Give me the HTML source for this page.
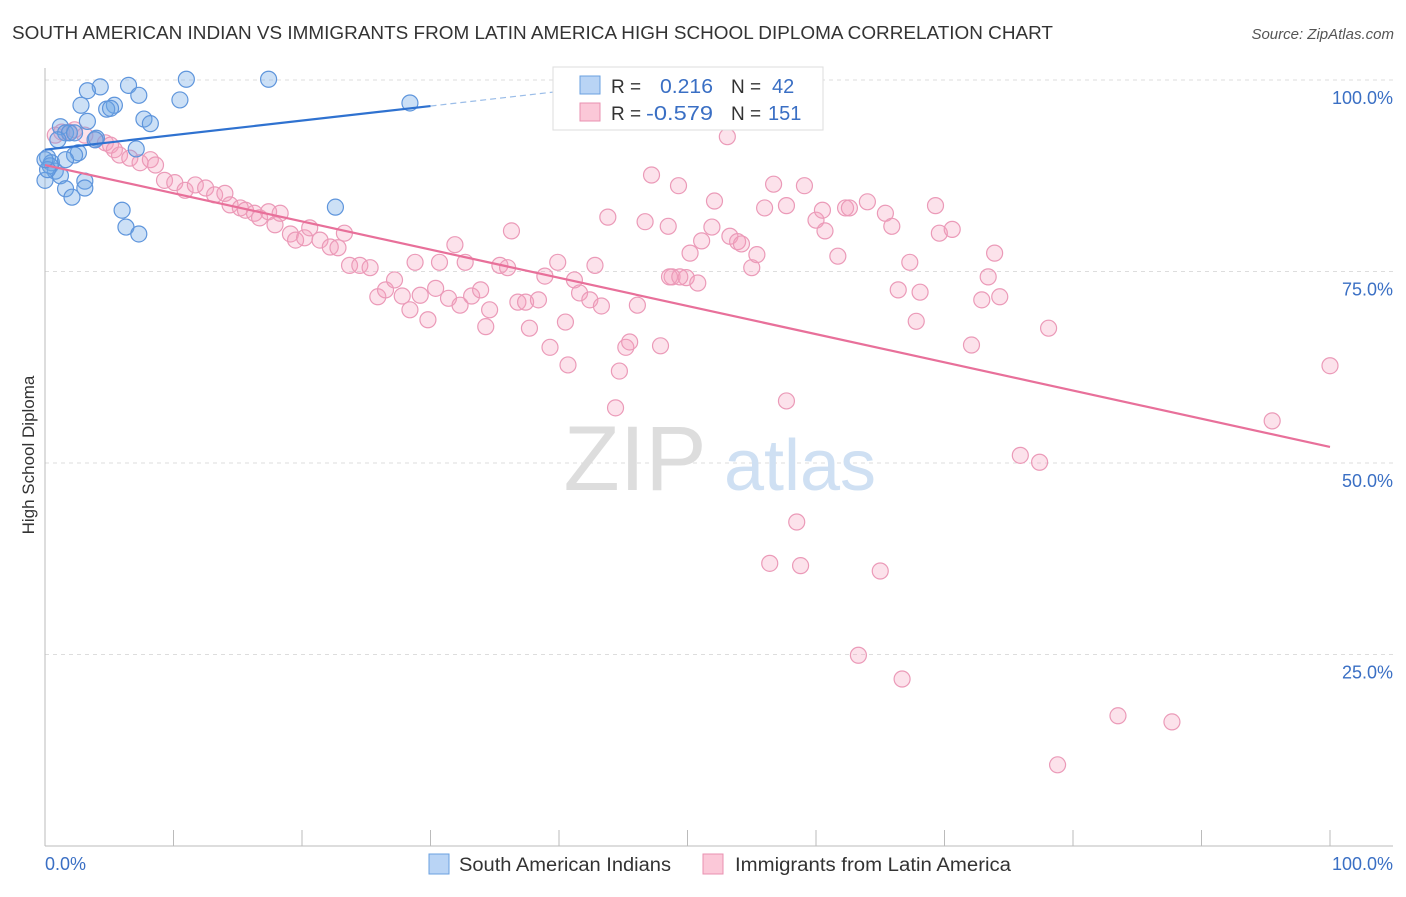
<!DOCTYPE html>
<html><head><meta charset="utf-8"><style>
body{margin:0;background:#fff;font-family:"Liberation Sans",sans-serif;}
svg text{font-family:"Liberation Sans",sans-serif;}
</style></head><body>
<svg id="chart" width="1406" height="892" xmlns="http://www.w3.org/2000/svg">
<text x="12" y="39" font-size="18" fill="#333" textLength="1041" lengthAdjust="spacingAndGlyphs">SOUTH AMERICAN INDIAN VS IMMIGRANTS FROM LATIN AMERICA HIGH SCHOOL DIPLOMA CORRELATION CHART</text>
<text x="1394" y="39" font-size="15" fill="#555" text-anchor="end" font-style="italic">Source: ZipAtlas.com</text>
<text x="34" y="455" font-size="17" fill="#333" text-anchor="middle" transform="rotate(-90 34 455)">High School Diploma</text>
<g id="grid"></g>
<g><text x="635" y="490" font-size="92" fill="#ddd" font-family="Liberation Serif" text-anchor="middle">ZIP</text><text x="800" y="490" font-size="72" fill="#cfe0f3" text-anchor="middle">atlas</text></g>
<g id="marks"></g>
<g>
<rect x="553" y="67" width="270" height="63" fill="#fff" stroke="#ddd"/>
<rect x="580" y="76" width="20" height="18" fill="#b9d4f5" stroke="#6aa0e0"/>
<rect x="580" y="103" width="20" height="18" fill="#fbc8d8" stroke="#e891b0"/>
<text x="611" y="93" font-size="19" fill="#333">R = </text><text x="660" y="93" font-size="20" fill="#3a6fc4" textLength="53" lengthAdjust="spacingAndGlyphs">0.216</text>
<text x="731" y="93" font-size="19" fill="#333">N = </text><text x="772" y="93" font-size="20" fill="#3a6fc4">42</text>
<text x="611" y="120" font-size="19" fill="#333">R = </text><text x="646" y="120" font-size="20" fill="#3a6fc4" textLength="67" lengthAdjust="spacingAndGlyphs">-0.579</text>
<text x="731" y="120" font-size="19" fill="#333">N = </text><text x="768" y="120" font-size="20" fill="#3a6fc4">151</text>
</g>
<g>
<rect x="429" y="854" width="20" height="20" fill="#b9d4f5" stroke="#6aa0e0"/>
<text x="459" y="871" font-size="19" fill="#333" textLength="212" lengthAdjust="spacingAndGlyphs">South American Indians</text>
<rect x="703" y="854" width="20" height="20" fill="#fbc8d8" stroke="#e891b0"/>
<text x="735" y="871" font-size="19" fill="#333" textLength="276" lengthAdjust="spacingAndGlyphs">Immigrants from Latin America</text>
</g>
</svg>
<script>
const blueX=[4.3,6.5,11.0,17.4,3.3,2.8,5.4,4.8,7.3,10.5,28.4,7.7,8.2,3.3,1.2,1.6,1.9,2.3,4.0,7.1,2.6,0.2,0.5,0.8,0.4,1.2,0,1.6,2.1,3.1,3.1,6.0,6.3,7.3,22.6,0.2,2.3,1.6,1.0,5.1,3.9,0];
const blueY=[99.1,99.3,100.1,100.1,98.6,96.7,96.7,96.2,98.0,97.4,97.0,94.9,94.3,94.6,93.9,93.1,93.1,93.1,92.4,91.0,90.5,89.9,89.2,88.1,88.8,87.5,86.9,85.8,84.7,86.8,85.9,83.0,80.8,79.9,83.4,88.3,90.2,89.6,92.2,96.3,92.2,89.6];
const pinkX=[0.8,1.3,1.9,2.3,3.1,3.9,4.7,5.1,5.4,5.8,6.6,7.4,8.2,8.6,9.3,10.1,10.9,11.7,12.5,13.2,14.0,14.4,15.2,15.6,16.3,16.7,17.4,17.9,18.3,19.1,19.5,20.2,20.6,21.4,22.2,22.8,23.3,23.7,24.5,25.3,25.9,26.5,27.2,27.8,28.4,28.8,29.2,29.8,30.4,30.7,31.4,31.9,32.3,32.7,33.2,33.9,34.3,34.6,35.4,36.0,36.3,36.8,37.4,37.7,38.4,38.9,39.3,39.9,40.5,40.7,41.2,41.6,42.4,42.8,43.3,43.8,44.4,44.7,45.2,45.5,46.1,46.7,47.2,47.9,48.5,48.8,49.3,49.9,50.2,50.8,51.1,51.9,52.1,53.1,53.3,53.9,54.2,55.0,55.4,56.0,56.4,56.7,57.7,57.7,58.5,58.8,59.1,60.0,60.5,60.7,61.7,62.3,62.6,63.3,64.0,65.0,65.4,65.9,66.4,66.7,67.3,67.8,68.1,69.6,69.3,70.6,72.1,72.9,73.4,73.9,74.3,75.9,77.4,78.1,78.8,83.5,87.7,95.5,100,48.6,49.4];
const pinkY=[92.8,93.2,93.2,93.5,92.8,92.2,91.8,91.5,90.9,90.2,89.8,89.2,89.6,88.9,86.9,86.6,85.6,86.3,85.9,85.0,85.2,83.7,83.3,83.0,82.6,82.0,82.8,81.1,82.6,79.9,79.1,79.4,80.7,79.1,78.2,78.1,80.0,75.8,75.8,75.5,71.7,72.6,73.9,71.8,70.0,76.2,71.9,68.7,72.8,76.2,71.5,78.5,70.6,76.2,71.8,72.6,67.8,70.0,75.8,75.5,80.3,71.0,71.0,67.6,71.3,74.4,65.1,76.2,68.4,62.8,73.9,72.2,71.3,75.8,70.5,82.1,57.2,62.0,65.1,65.8,70.6,81.5,87.6,65.3,80.9,74.3,86.2,74.2,77.4,73.5,79.0,80.8,84.2,92.6,79.6,78.9,78.6,75.5,77.2,83.3,36.9,86.4,83.6,58.1,42.3,36.6,86.2,81.7,83.0,80.3,77.0,83.3,83.3,24.9,84.1,35.9,82.6,80.9,72.6,21.8,76.2,68.5,72.3,80.0,83.6,80.5,65.4,71.3,74.3,77.4,71.7,51.0,50.1,67.6,10.6,17.0,16.2,55.5,62.7,74.3,74.3];
const blueTrendX=[0,30,41];
const blueTrendY=[90.9,96.6,98.7];
const pinkTrendX=[0,100];
const pinkTrendY=[88.9,52.1];
const yTicks=[100,75,50,25];
const yTickLabels=["100.0%","75.0%","50.0%","25.0%"];
const xTicks=[0,10,20,30,40,50,60,70,80,90,100];

const NS="http://www.w3.org/2000/svg";
const sx=v=>45+v*12.85;
const sy=v=>846-v*7.66;
const grid=document.getElementById('grid');
const marks=document.getElementById('marks');
function mk(tag,attrs,parent){const e=document.createElementNS(NS,tag);for(const k in attrs)e.setAttribute(k,attrs[k]);parent.appendChild(e);return e;}
yTicks.forEach((t,i)=>{
  const l=mk('line',{x1:45,x2:1393,y1:sy(t),y2:sy(t),stroke:'#ddd','stroke-dasharray':'4,4'},grid);
  
  
  const tx=mk('text',{x:1393,y:sy(t)+24,'font-size':18,fill:'#3a6fc4','text-anchor':'end'},grid);
  tx.textContent=yTickLabels[i];
  
  
});
const ya=mk('line',{x1:45,x2:45,y1:68,y2:846,stroke:'#bbb'},grid);


const xa=mk('line',{x1:45,x2:1393,y1:846,y2:846,stroke:'#bbb'},grid);


xTicks.forEach(t=>{
  const l=mk('line',{x1:sx(t),x2:sx(t),y1:830,y2:846,stroke:'#bbb'},grid);
  
  
});
const xl0=mk('text',{x:45,y:870,'font-size':18,fill:'#3a6fc4'},grid);xl0.textContent='0.0%';


const xl1=mk('text',{x:1393,y:870,'font-size':18,fill:'#3a6fc4','text-anchor':'end'},grid);xl1.textContent='100.0%';



pinkX.forEach((x,i)=>{
  const c=mk('circle',{cx:sx(x),cy:sy(pinkY[i]),r:8,fill:'rgba(245,160,190,0.3)',stroke:'#eb9ab8','stroke-width':1.2},marks);
  
  
});
blueX.forEach((x,i)=>{
  const c=mk('circle',{cx:sx(x),cy:sy(blueY[i]),r:8,fill:'rgba(110,165,230,0.35)',stroke:'#5e95dc','stroke-width':1.2},marks);
  
  
});
const pl=mk('line',{x1:sx(pinkTrendX[0]),y1:sy(pinkTrendY[0]),x2:sx(pinkTrendX[1]),y2:sy(pinkTrendY[1]),stroke:'#e8709a','stroke-width':2.2},marks);


const bl=mk('line',{x1:sx(blueTrendX[0]),y1:sy(blueTrendY[0]),x2:sx(blueTrendX[1]),y2:sy(blueTrendY[1]),stroke:'#2f72d0','stroke-width':2.2},marks);


const bd=mk('line',{x1:sx(blueTrendX[1]),y1:sy(blueTrendY[1]),x2:sx(blueTrendX[2]),y2:sy(blueTrendY[2]),stroke:'#9bbde8','stroke-width':1.2,'stroke-dasharray':'6,4'},marks);


</script>
</body></html>
